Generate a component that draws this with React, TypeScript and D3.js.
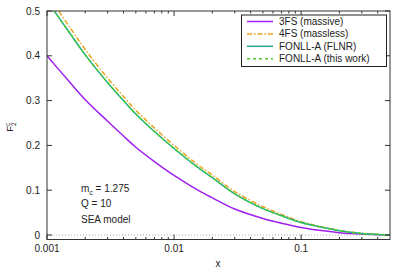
import React from "react";
import * as d3 from "d3";

// x grid shared by all curves
const xs = [0.001, 0.0015, 0.002, 0.003, 0.004, 0.005, 0.007, 0.01, 0.015, 0.02, 0.03, 0.05, 0.07, 0.1, 0.15, 0.2, 0.3, 0.5];

const fs3Massive = [0.4, 0.342, 0.302, 0.254, 0.221, 0.196, 0.164, 0.133, 0.102, 0.083, 0.058, 0.037, 0.0265, 0.017, 0.0093, 0.0052, 0.002, 0.0];
const fs4Massless = [0.538, 0.465, 0.414, 0.35, 0.309, 0.2785, 0.239, 0.2, 0.159, 0.134, 0.097, 0.063, 0.046, 0.0298, 0.0175, 0.0101, 0.0036, 0.0];
const fonllFlnr = [0.523, 0.452, 0.402, 0.34, 0.3, 0.27, 0.231, 0.193, 0.153, 0.128, 0.092, 0.059, 0.0431, 0.0278, 0.0165, 0.0096, 0.0035, 0.0];
const fonllThisWork = [0.523, 0.452, 0.402, 0.34, 0.3, 0.27, 0.231, 0.193, 0.153, 0.128, 0.092, 0.059, 0.0431, 0.0278, 0.0165, 0.0096, 0.0035, 0.0];

const seriesNames = ["3FS (massive)", "4FS (massless)", "FONLL-A (FLNR)", "FONLL-A (this work)"];
const seriesValues = [fs3Massive, fs4Massless, fonllFlnr, fonllThisWork];
const seriesColors = ["#a020f0", "#eaa520", "#1fae8c", "#4ccd2c"];
const seriesDash = ["none", "5,2,1.5,2", "none", "3,3"];

const xMajorTicks = [0.001, 0.01, 0.1];
const xTickLabels = ["0.001", "0.01", "0.1"];
const yTicks = [0, 0.1, 0.2, 0.3, 0.4, 0.5];

const W = 407;
const H = 271;
const left = 47;
const right = 390;
const top = 11;
const bottom = 239.5;
const font = "'Liberation Sans', Arial, Helvetica, sans-serif";

export default function App() {
  const x = d3.scaleLog().domain([0.001, 0.5]).range([left, right]);
  const y = d3.scaleLinear().domain([-0.01, 0.5]).range([bottom, top]);

  const line = d3
    .line<number>()
    .x((_, i) => x(xs[i]))
    .y((d) => y(d))
    .curve(d3.curveCatmullRom.alpha(0.5));

  // minor ticks for log axis
  const minor: number[] = [];
  [0.001, 0.01, 0.1].forEach((dec) => {
    for (let k = 2; k <= 9; k++) {
      const v = dec * k;
      if (v < 0.5) minor.push(v);
    }
  });

  const legendX = 241.5;
  const legendY = 15;
  const rowY = (i: number) => 21.5 + i * 12.4;

  return (
    <div style={{ position: "fixed", left: 0, top: 0 }}>
      <svg width={W} height={H} style={{ display: "block", background: "#fff" }} fontFamily={font}>
        <defs>
          <clipPath id="plot">
            <rect x={left} y={top} width={right - left} height={bottom - top} />
          </clipPath>
        </defs>

        {/* zero line */}
        <line x1={left} x2={right} y1={y(0)} y2={y(0)} stroke="#999" strokeWidth={0.8} strokeDasharray="1,2" />

        {/* curves */}
        <g clipPath="url(#plot)">
          {seriesValues.map((vals, i) => (
            <path
              key={seriesNames[i]}
              d={line(vals) || ""}
              fill="none"
              stroke={seriesColors[i]}
              strokeWidth={1.5}
              strokeDasharray={seriesDash[i]}
            />
          ))}
        </g>

        {/* frame */}
        <rect x={left} y={top} width={right - left} height={bottom - top} fill="none" stroke="#333" strokeWidth={1} />

        {/* x ticks */}
        {xMajorTicks.map((t, i) => (
          <g key={"xt" + t}>
            <line x1={x(t)} x2={x(t)} y1={bottom} y2={bottom - 5} stroke="#333" />
            <line x1={x(t)} x2={x(t)} y1={top} y2={top + 5} stroke="#333" />
            <text x={x(t)} y={252} fontSize={10} textAnchor="middle" fill="#222">
              {xTickLabels[i]}
            </text>
          </g>
        ))}
        {minor.map((t) => (
          <g key={"xm" + t}>
            <line x1={x(t)} x2={x(t)} y1={bottom} y2={bottom - 2.5} stroke="#333" />
            <line x1={x(t)} x2={x(t)} y1={top} y2={top + 2.5} stroke="#333" />
          </g>
        ))}

        {/* y ticks */}
        {yTicks.map((t) => (
          <g key={"yt" + t}>
            <line x1={left} x2={left + 5} y1={y(t)} y2={y(t)} stroke="#333" />
            <line x1={right} x2={right - 5} y1={y(t)} y2={y(t)} stroke="#333" />
            <text x={40} y={y(t) + 3.5} fontSize={10} textAnchor="end" fill="#222">
              {t === 0 ? "0" : t.toFixed(1)}
            </text>
          </g>
        ))}

        {/* axis labels */}
        <text x={218} y={267} fontSize={10} textAnchor="middle" fill="#222">
          x
        </text>
        <text transform="translate(13,127) rotate(-90)" fontSize={9.5} textAnchor="middle" fill="#222">
          F
          <tspan dy={2.5} fontSize={6.5}>2</tspan>
          <tspan dx={-3.6} dy={-6} fontSize={6.5}>c</tspan>
        </text>

        {/* annotation */}
        <text x={81} y={192} fontSize={10} fill="#222">
          m<tspan dy={2.5} fontSize={7}>c</tspan>
          <tspan dy={-2.5}> = 1.275</tspan>
        </text>
        <text x={81} y={207} fontSize={10} fill="#222">
          Q = 10
        </text>
        <text x={81} y={223} fontSize={10} fill="#222">
          SEA model
        </text>

        {/* legend */}
        <rect x={legendX} y={legendY} width={145} height={51.5} fill="#fff" stroke="#222" strokeWidth={1} />
        {seriesNames.map((name, i) => (
          <g key={"lg" + name}>
            <line
              x1={247}
              x2={273}
              y1={rowY(i)}
              y2={rowY(i)}
              stroke={seriesColors[i]}
              strokeWidth={1.5}
              strokeDasharray={seriesDash[i]}
            />
            <text x={279} y={rowY(i) + 3.5} fontSize={10} fill="#222">
              {name}
            </text>
          </g>
        ))}
      </svg>
    </div>
  );
}
